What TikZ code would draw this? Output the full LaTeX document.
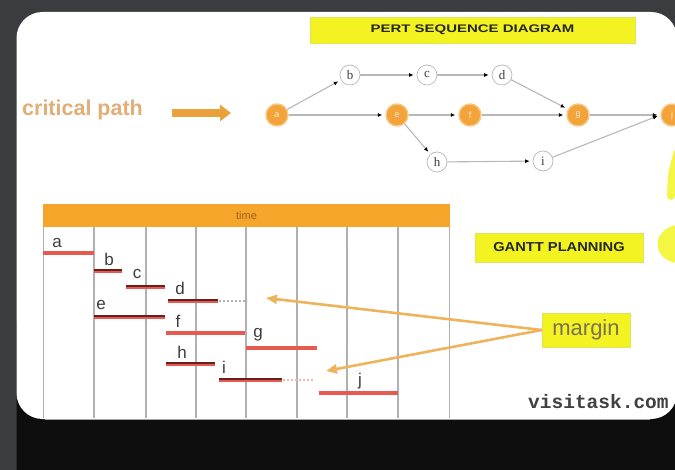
\documentclass[tikz,border=0pt]{standalone}
\usepackage{fontspec}
\setmainfont{Liberation Sans}
\newfontfamily\nodeserif{Liberation Serif}
\newfontfamily\urlmono{Liberation Mono}
\usetikzlibrary{arrows.meta}
\definecolor{bggrey}{HTML}{3A3C40}
\definecolor{slateblack}{HTML}{0E0E0E}
\definecolor{ornode}{HTML}{F2A33A}
\definecolor{ornoderim}{HTML}{F8C784}
\definecolor{edgegrey}{HTML}{B8B8B8}
\definecolor{ybox}{HTML}{F3F322}
\definecolor{yboxrim}{HTML}{E2E25A}
\definecolor{cptext}{HTML}{E2AE78}
\definecolor{cparrow}{HTML}{E9A23B}
\definecolor{marrowc}{HTML}{EDB45C}
\definecolor{margintext}{HTML}{7B6F55}
\definecolor{hdr}{HTML}{F4A52A}
\definecolor{hdrtext}{HTML}{A2601C}
\definecolor{gridc}{HTML}{B0B0B0}
\definecolor{barred}{HTML}{E65A50}
\definecolor{bardark}{HTML}{6A1E1E}
\definecolor{labelc}{HTML}{3C3C3C}
\begin{document}
\begin{tikzpicture}[x=1pt,y=-1pt,
  onode/.style={circle,minimum size=22pt,inner sep=0pt,fill=ornode,draw=ornoderim,line width=1.4pt,
    text=white!80!ornode,font=\fontsize{9}{9}\selectfont},
  wnode/.style={circle,minimum size=20pt,inner sep=0pt,fill=white,draw=gray!55,line width=0.7pt,
    text=labelc,font=\nodeserif\fontsize{13}{13}\selectfont},
  pedge/.style={draw=edgegrey,line width=1.1pt,-{Latex[length=4.5pt,width=4pt,color=black]},shorten >=3pt},
  yboxst/.style={fill=ybox,draw=yboxrim,line width=0.6pt,inner sep=0pt},
  marrow/.style={draw=marrowc,line width=2.6pt,-{Triangle[length=11pt,width=9pt]}},
  gridline/.style={draw=gridc,line width=1.7pt},
  lightbar/.style={draw=barred,line width=4.2pt},
  darkbar/.style={draw=barred,line width=4.5pt,postaction={draw=bardark,line width=2.6pt,transform canvas={yshift=0.9pt}}},
  contbar/.style={line width=1.5pt,dash pattern=on 2pt off 2pt},
  glabel/.style={text=labelc,font=\fontsize{17}{17}\selectfont,inner sep=0pt}
]
\useasboundingbox (0,0) rectangle (675,470);
\clip (0,0) rectangle (675,470);
% backdrop
\fill[bggrey] (0,0) rectangle (675,470);
\fill[slateblack,rounded corners=26pt] (16.5,300) rectangle (720,520);
\fill[white,rounded corners=26pt] (16.5,12) rectangle (677,419);
\draw[gray!70,line width=0.8pt] (45,419) -- (650,419);

% title
\node[yboxst,minimum width=325pt,minimum height=26pt] (title) at (472.5,30)
  {\scalebox{1.36}[1]{\fontsize{11}{11}\selectfont\bfseries\color{black!85}PERT SEQUENCE DIAGRAM}};

% critical path
\node[text=cptext,font=\fontsize{21.5}{21.5}\selectfont\bfseries,inner sep=0pt,anchor=west] (cp) at (22,110) {critical path};
\coordinate (cpa) at (172,113);
\coordinate (cpb) at (231,113);
\draw[cparrow,line width=8pt,-{Triangle[length=11pt,width=16pt]}] (cpa) -- (cpb);

% PERT nodes
\node[onode] (a) at (277,115) {a};
\node[onode] (e) at (397,115) {e};
\node[onode] (f) at (470,115) {f};
\node[onode] (g) at (578,115) {g};
\node[onode] (j) at (672,115) {j};
\node[wnode] (b) at (350,75) {b};
\node[wnode] (c) at (427,75) {c};
\node[wnode] (d) at (502,75) {d};
\node[wnode] (h) at (437,162) {h};
\node[wnode] (i) at (543,161) {i};

\draw[pedge] (a) -- (b);
\draw[pedge] (b) -- (c);
\draw[pedge] (c) -- (d);
\draw[pedge] (d) -- (g.150);
\draw[pedge] (a) -- (e);
\draw[pedge] (e) -- (f);
\draw[pedge] (f) -- (g);
\draw[pedge] (g) -- (j);
\draw[pedge] (e) -- (h);
\draw[pedge] (h) -- (i);
\draw[pedge] (i) -- (j.west);

% yellow curved arrow at right edge
\draw[ybox!85,line width=8pt,line cap=round] (678,152) .. controls (672,172) .. (671,196);
\fill[ybox!85] (676,225) .. controls (663,228) and (657,237) .. (657.5,245)
  .. controls (658,254) and (665,261) .. (676,263) -- cycle;

% GANTT PLANNING
\node[yboxst,minimum width=168pt,minimum height=29pt] (gp) at (559,247.5)
  {\scalebox{1.13}[1]{\fontsize{13}{13}\selectfont\bfseries\color{black!85}GANTT PLANNING}};

% margin
\node[yboxst,minimum width=88pt,minimum height=34pt,text=margintext,font=\fontsize{22}{22}\selectfont] (margin) at (586,330) {margin};

% Gantt grid
\fill[hdr] (43,204) rectangle (450,227);
\node[text=hdrtext,font=\fontsize{11}{11}\selectfont,inner sep=0pt] (time) at (246.5,216) {time};
\foreach \x in {43.5,94.3,145.7,195.7,245.7,296.7,347.3,398.3,449.5}
  \draw[gridline] (\x,227) -- (\x,418);

% bars
\draw[lightbar] (43,253) -- (94,253);
\draw[darkbar] (94,271) -- (122,271);
\draw[darkbar] (126,287) -- (165,287);
\draw[darkbar] (168,301) -- (218,301);
\draw[contbar,draw=gray!60] (219,301) -- (247,301);
\draw[darkbar] (94,317) -- (165,317);
\draw[lightbar] (166,333) -- (245,333);
\draw[lightbar] (246,348) -- (317,348);
\draw[darkbar] (166,364) -- (215,364);
\draw[darkbar] (219,380) -- (282,380);
\draw[contbar,draw=barred!45] (283,380) -- (313,380);
\draw[lightbar] (319,393) -- (398,393);

% bar labels
\node[glabel] (la) at (57,243) {a};
\node[glabel] (lb) at (109,259) {b};
\node[glabel] (lc) at (137,274) {c};
\node[glabel] (ld) at (180,288) {d};
\node[glabel] (le) at (101,305) {e};
\node[glabel] (lf) at (178,321) {f};
\node[glabel] (lg) at (258,335) {g};
\node[glabel] (lh) at (182,352) {h};
\node[glabel] (li) at (224,367) {i};
\node[glabel] (lj) at (360,381) {j};

% margin arrows
\coordinate (m1) at (266,298);
\coordinate (m2) at (326,371);
\draw[marrow] (margin.west) -- (m1);
\draw[marrow] (margin.west) -- (m2);

% url
\node[anchor=west,inner sep=0pt,text=black!75,font=\urlmono\bfseries\fontsize{19.5}{19.5}\selectfont] (url) at (528,402) {visitask.com};
\end{tikzpicture}
\end{document}
